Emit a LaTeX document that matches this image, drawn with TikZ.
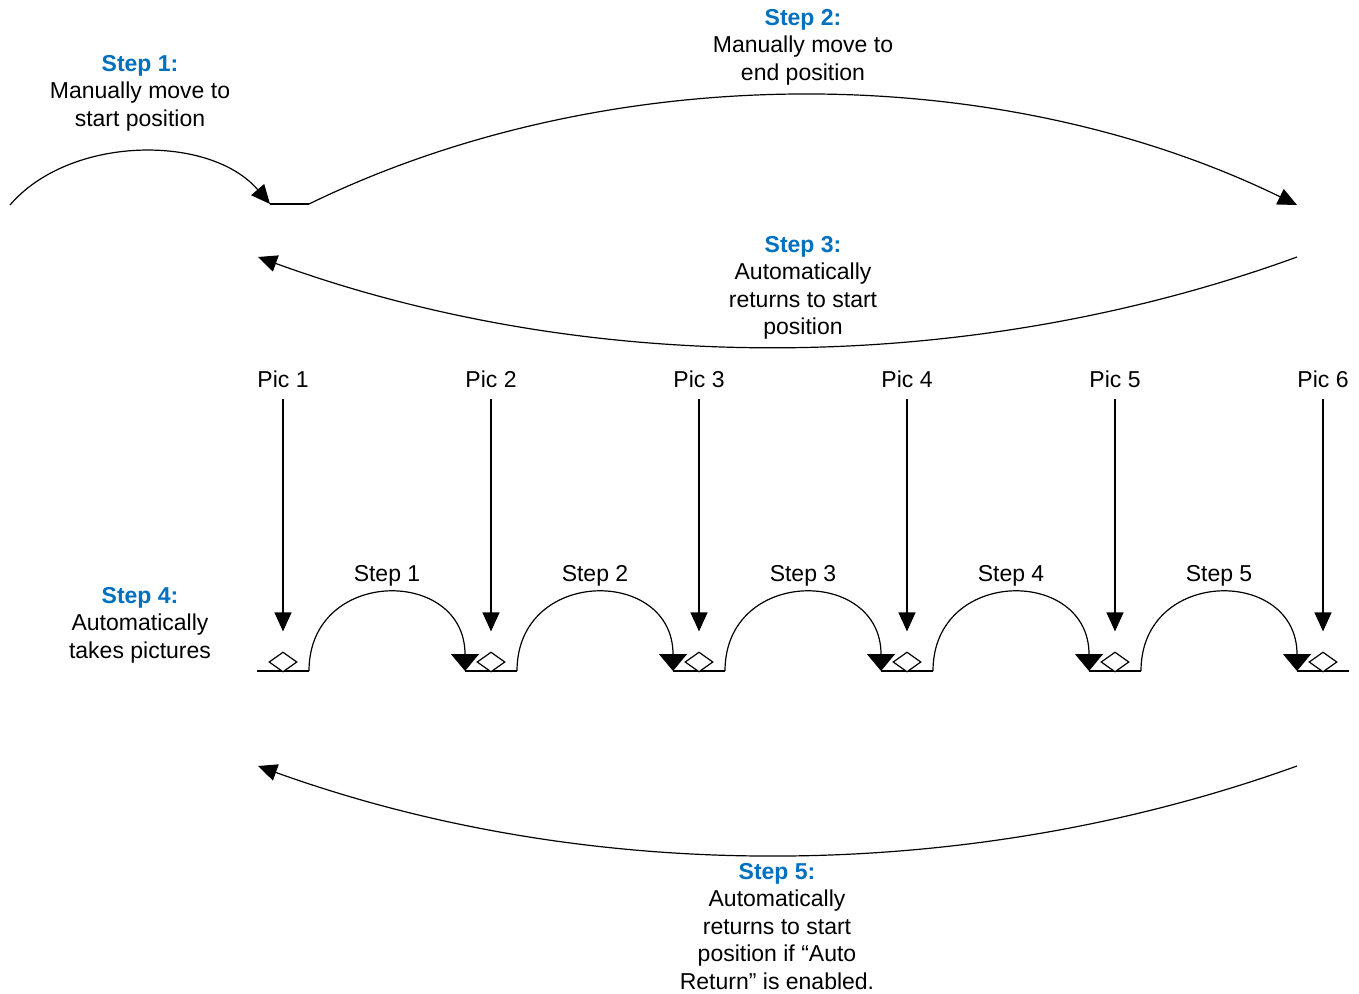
\documentclass[tikz,border=0pt]{standalone}
\usepackage{fontspec}
\setmainfont{Liberation Sans}
\usepackage{tikz}
\usetikzlibrary{arrows.meta}
\usetikzlibrary{positioning}
\usetikzlibrary{shapes.geometric}

\definecolor{stepblue}{RGB}{0,112,192}

\tikzset{
  lbl/.style={font=\fontsize{23}{27.5}\selectfont, inner sep=0pt, align=center, anchor=base},
  bigtip/.style={-{Triangle[length=19pt,width=17pt]}},
  archtip/.style={-{Triangle[length=17pt,width=28pt]}},
  sensor/.style={diamond, draw, fill=white, minimum width=28pt, minimum height=20pt, inner sep=0pt}
}
\newcommand{\steptitle}[1]{\textcolor{stepblue}{\bfseries Step #1:}}

\begin{document}
\begin{tikzpicture}[x=1pt, y=-1pt, line width=1.2pt]

    \useasboundingbox (0,0) rectangle (1359,993);

    \node[lbl] (txt1) at (140,126) {\steptitle{1}\\Manually move to\\start position};
    \node[lbl] (txt2) at (803,80) {\steptitle{2}\\Manually move to\\end position};
    \node[lbl] (txt3) at (803,334.5) {\steptitle{3}\\Automatically\\returns to start\\position};
    \node[lbl] (txt4) at (140,658) {\steptitle{4}\\Automatically\\takes pictures};
    \node[lbl] (txt5) at (777,989) {\steptitle{5}\\Automatically\\returns to start\\position if “Auto\\Return” is enabled.};

    \coordinate (s1a) at (10,205);
    \coordinate (s1b) at (270,204);
    \coordinate (s2a) at (309,204);
    \coordinate (s2b) at (1297,205);
    \coordinate (s3a) at (1297,257);
    \coordinate (s3b) at (258,257);
    \coordinate (s5a) at (1297,766);
    \coordinate (s5b) at (258,766);

    \draw [bigtip] (s1a) .. controls +(60,-70) and +(-60,-70) .. (s1b);
    \draw (s1b) -- (s2a);
    \draw [bigtip] (s2a) .. controls +(300,-146) and +(-300,-146) .. (s2b);
    \draw [bigtip] (s3a) .. controls +(-330,120) and +(330,120) .. (s3b);
    \draw [bigtip] (s5a) .. controls +(-330,119) and +(330,119) .. (s5b);

    \foreach \i in {1,...,6} {
      \pgfmathsetmacro{\px}{283+208*(\i-1)}
      \coordinate (l\i) at (\px-26,671);
      \coordinate (r\i) at (\px+26,671);
      \draw (l\i) -- (r\i);
      \node[sensor] (dia\i) at (\px,662) {};
      \node[lbl] (pic\i) at (\px,387) {Pic \i};
      \draw [bigtip, shorten <=11pt, shorten >=20pt] (pic\i.south) -- (dia\i.north);
    }

    \foreach \i [count=\j from 2] in {1,...,5} {
      \pgfmathsetmacro{\px}{387+208*(\i-1)}
      \node[lbl] (stp\i) at (\px,581) {Step \i};
      \draw [archtip] (r\i) .. controls +(0,-104) and +(0,-104) .. (l\j);
    }

  \end{tikzpicture}
\end{document}
